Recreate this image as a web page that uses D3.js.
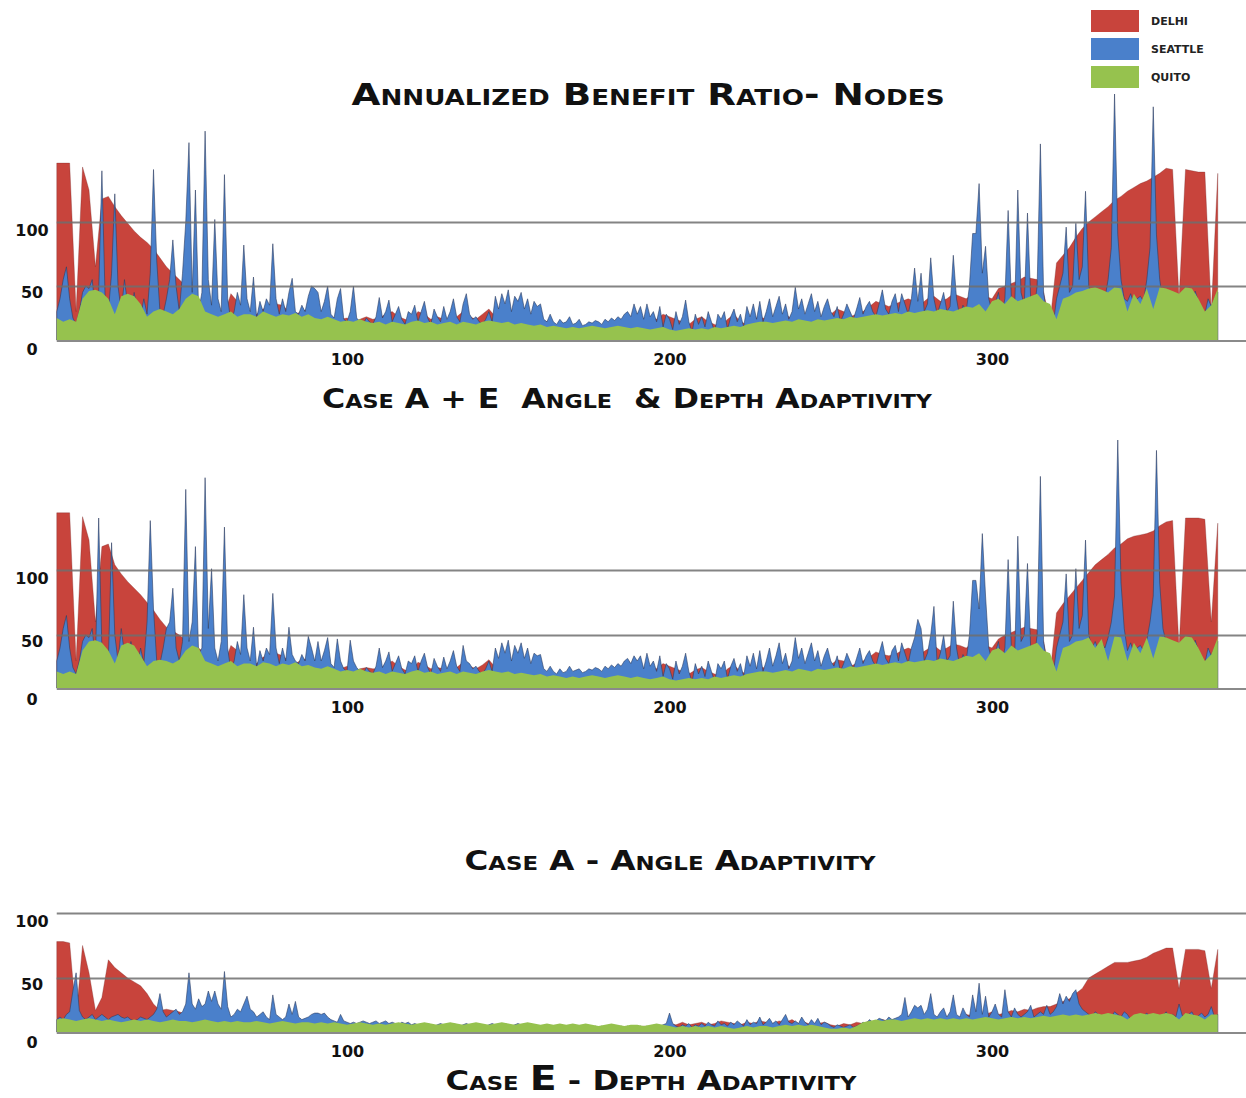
<!DOCTYPE html>
<html>
<head>
<meta charset="utf-8">
<script src="https://cdn.jsdelivr.net/npm/d3@7"></script>
<style>
  html, body { margin: 0; padding: 0; background: #ffffff; }
  svg { display: block; }
  text { font-family: "DejaVu Sans", "Liberation Sans", sans-serif; }
</style>
</head>
<body>
<svg id="chart" width="1246" height="1098"></svg>
<script>
// ---------------- DATA ----------------
const seriesNames = ["Delhi", "Seattle", "Quito"];
const legendLabels = ["DELHI", "SEATTLE", "QUITO"];
const xTicks = [100, 200, 300];
const yTickLabels = [0, 50, 100];
const gridValues = [50, 100];
const titles = [
  "Case A + E  Angle  & Depth Adaptivity",
  "Case A - Angle Adaptivity",
  "Case E - Depth Adaptivity"
];
const mainTitle = "Annualized Benefit Ratio- Nodes";
// x positions: coarse (every 2 nodes) for Delhi & Quito, fine (every node) for Seattle
const xCoarse = d3.range(10, 371, 2);
const xFine = d3.range(10, 371, 1);

// ---- Case A + E ----
const delhiAE = [
146,146,146,30,143,125,65,118,120,112,
105,99,93,88,84,79,72,65,60,55,
50,45,40,36,33,30,28,44,38,30,
30,28,32,34,36,35,30,28,30,32,
30,28,26,25,24,25,22,24,26,24,
25,28,30,26,24,22,30,28,24,26,
24,22,26,30,26,24,28,32,26,22,
20,18,18,20,22,24,22,20,18,16,
15,14,16,18,18,16,15,16,18,20,
22,24,26,24,28,26,24,22,20,24,
26,22,20,18,24,28,22,20,24,26,
24,22,26,28,24,22,26,30,26,24,
28,32,30,26,28,30,34,38,36,34,
36,38,40,38,36,40,42,38,40,44,
42,40,44,46,42,40,48,50,52,54,
57,56,55,45,22,68,74,80,88,95,
100,104,108,112,117,120,124,127,130,132,
135,138,142,141,40,141,140,139,139,30,
138];
const seattleAE = [
30,40,55,65,40,25,20,30,45,50,
48,55,30,45,140,40,30,60,122,50,
30,55,35,28,45,30,26,40,28,60,
141,70,30,28,40,55,86,50,30,60,
100,162,45,125,30,45,171,55,35,102,
40,30,137,40,22,30,45,35,82,40,
30,57,25,38,30,40,35,83,40,28,
40,30,45,56,30,28,35,30,42,50,
48,45,30,38,50,28,25,40,48,24,
22,30,50,25,22,20,25,22,20,26,
41,25,30,39,22,28,34,24,20,30,
28,35,22,30,38,25,20,32,26,22,
34,24,30,40,26,22,36,44,28,24,
26,22,20,24,30,22,42,32,44,36,
47,30,42,38,45,32,40,28,38,34,
36,24,22,28,22,20,24,21,22,26,
20,21,24,19,20,22,21,23,22,20,
24,22,25,23,26,24,28,30,26,36,
28,34,24,36,26,30,22,34,18,28,
24,16,30,20,26,39,22,14,28,20,
26,18,30,22,14,28,24,30,16,26,
32,22,28,18,34,26,36,24,38,22,
30,40,26,34,42,28,36,24,30,49,
32,40,28,36,44,30,38,26,34,40,
30,26,34,22,28,36,30,24,32,41,
28,34,38,30,26,36,47,32,28,38,
44,30,44,36,28,40,64,38,60,30,
36,72,40,28,36,45,30,34,74,40,
26,35,30,50,91,91,130,60,81,40,
30,36,45,28,40,109,40,30,125,45,
35,107,40,30,50,161,45,28,22,20,
40,50,60,96,45,50,99,55,65,124,
50,40,45,38,44,40,55,80,200,90,
55,40,38,44,36,40,42,38,55,80,
190,90,55,38,44,36,40,30,42,36,
45,40,34,46,38,30,28,40,34,40,
45];
const quitoAE = [
25,22,24,22,40,46,47,45,40,28,
42,44,42,36,26,30,32,30,28,32,
40,44,42,30,28,26,28,30,26,28,
28,26,30,28,26,28,27,29,26,28,
25,24,26,24,22,23,22,24,22,21,
22,20,22,21,20,22,23,21,22,20,
21,22,20,22,21,20,22,23,22,21,
22,20,21,20,19,20,18,19,18,17,
18,17,18,19,18,17,18,19,18,17,
18,17,16,17,18,16,15,16,17,16,
17,16,18,17,18,19,18,20,21,22,
22,21,22,23,22,24,23,22,24,23,
24,25,24,26,25,26,27,28,27,28,
29,28,30,29,30,31,30,32,31,30,
32,34,33,36,30,38,40,36,42,38,
40,42,44,38,36,24,40,42,45,46,
48,49,47,45,49,48,30,44,36,48,
32,49,48,46,44,49,48,40,30,35,
48];

// ---- Case A ----
const delhiA = [
144,144,144,30,141,123,60,118,120,104,
97,91,86,81,75,69,62,56,53,50,
46,42,40,36,33,30,28,42,38,30,
30,28,33,34,36,34,30,28,31,32,
30,27,26,25,24,26,22,24,25,24,
24,27,30,26,23,22,29,27,24,25,
24,22,25,29,26,24,27,31,25,22,
20,18,19,20,22,23,21,20,18,16,
15,14,16,17,18,16,15,16,18,20,
22,24,25,24,28,26,24,22,20,23,
25,22,20,18,24,27,22,20,23,26,
24,22,25,28,24,22,26,29,26,24,
27,31,30,26,28,30,33,37,35,34,
35,38,40,38,36,39,42,38,40,43,
42,40,44,46,42,40,47,50,52,54,
56,55,54,45,20,67,74,80,86,92,
98,104,108,112,117,120,124,126,127,128,
130,134,137,138,40,140,140,140,139,60,
136];
const seattleA = [
30,40,55,65,40,25,20,30,45,50,
48,55,30,140,40,35,30,121,50,30,
55,35,28,45,30,26,40,28,60,138,
70,30,28,40,55,60,86,40,30,45,
162,45,60,118,35,40,171,55,101,40,
30,45,133,40,22,30,45,35,81,40,
30,56,25,38,30,40,35,82,40,28,
40,30,56,35,30,28,35,30,49,40,
30,45,30,38,48,28,25,47,30,24,
22,46,30,25,22,20,25,22,20,26,
40,25,30,37,22,28,34,24,20,30,
28,34,22,30,36,25,20,32,26,22,
33,24,30,38,26,22,42,30,28,24,
26,22,20,24,30,22,40,32,44,36,
46,30,42,36,44,32,40,28,36,34,
35,24,22,26,22,20,24,21,22,26,
22,23,24,21,22,24,23,25,24,22,
26,24,27,25,28,26,30,32,28,34,
30,34,24,36,26,30,22,34,18,28,
24,16,30,20,26,36,22,14,28,20,
26,18,30,22,14,28,24,30,16,26,
32,22,28,18,34,26,36,24,38,22,
30,40,26,34,44,28,36,24,30,48,
32,40,28,36,44,30,38,26,34,40,
30,26,34,22,28,36,30,24,32,40,
28,34,38,30,26,36,45,32,28,38,
42,30,44,36,28,40,48,62,55,30,
36,50,72,28,36,50,30,34,76,40,
26,35,30,50,92,92,70,128,80,40,
30,36,45,28,40,108,40,30,126,45,
50,105,40,30,50,172,45,28,18,20,
40,50,60,97,45,50,101,55,65,123,
50,40,45,38,44,40,48,60,80,200,
90,55,38,44,36,40,42,38,46,60,
80,192,90,55,44,36,40,30,42,36,
45,40,34,46,38,30,28,40,34,40,
45];
const quitoA = [
22,20,22,20,38,45,46,44,38,28,
42,44,42,34,26,30,31,30,28,31,
38,42,40,30,28,26,28,30,26,28,
28,26,29,28,26,28,27,29,26,27,
25,24,26,24,22,23,22,24,22,21,
22,20,22,21,20,22,23,21,22,20,
21,22,20,22,21,20,22,23,22,21,
22,20,21,20,19,20,18,19,18,17,
18,17,18,19,18,17,18,19,18,17,
18,17,16,17,18,16,15,16,17,16,
17,16,18,17,18,19,18,20,21,22,
22,21,22,23,22,24,23,22,24,23,
24,25,24,26,25,26,27,28,27,28,
29,28,30,29,30,31,30,32,31,30,
32,34,33,36,30,38,40,36,42,38,
40,42,44,38,36,22,40,42,45,46,
48,40,47,30,49,48,30,44,36,48,
32,49,48,46,44,49,48,40,30,35,
48];

// ---- Case E ----
const delhiE = [
78,78,77,20,75,54,25,35,64,58,
54,50,47,44,38,30,25,26,25,24,
22,20,18,17,16,16,15,15,16,15,
14,15,14,14,13,14,13,14,13,13,
12,12,13,12,12,11,12,12,11,12,
11,12,11,12,12,11,12,11,12,12,
12,11,12,12,11,12,12,11,12,11,
11,12,11,12,11,11,12,11,12,11,
11,12,11,12,11,12,11,12,11,12,
12,13,12,14,13,15,14,16,14,15,
16,14,15,17,16,15,14,16,15,17,
16,15,17,16,18,15,16,14,15,16,
14,13,15,14,16,15,17,16,18,17,
18,17,19,18,20,19,18,20,19,21,
20,22,21,20,22,24,22,23,25,24,
26,25,27,28,28,30,32,34,38,42,
50,53,56,59,62,62,62,63,64,66,
69,71,73,73,42,72,72,72,71,42,
72];
const seattleE = [
18,20,18,22,24,40,54,25,20,18,
20,22,18,20,22,20,18,20,21,22,
20,19,20,18,17,18,20,19,18,20,
22,26,38,24,20,22,24,26,22,24,
30,54,30,26,34,28,30,40,32,40,
30,26,55,28,20,22,26,24,30,36,
26,24,20,22,24,20,18,37,22,20,
18,20,30,22,32,20,18,19,20,22,
23,23,22,23,20,18,17,16,22,17,
16,15,16,15,16,17,16,15,16,17,
15,16,17,15,16,15,14,16,15,16,
14,15,14,13,14,15,14,13,14,15,
14,13,14,15,14,13,14,15,14,13,
14,13,14,13,14,15,14,13,14,15,
14,13,14,15,14,13,14,13,14,13,
12,13,14,13,12,13,12,13,12,13,
12,13,12,13,12,13,12,13,12,13,
12,13,12,13,12,13,12,13,12,13,
12,13,12,13,12,13,12,13,14,15,
23,15,13,12,14,13,15,12,14,13,
15,13,16,14,13,17,14,15,13,16,
14,17,15,13,18,14,16,15,20,14,
16,19,15,17,14,18,22,16,15,17,
15,20,16,14,18,15,19,14,16,15,
13,12,14,13,12,13,14,12,13,14,
16,15,18,16,17,19,18,17,20,18,
19,20,22,35,20,24,29,27,29,22,
26,38,22,20,24,27,20,24,37,22,
20,27,22,20,37,24,46,22,36,20,
24,30,22,20,41,24,20,27,22,20,
22,24,29,20,22,24,22,29,22,24,
28,38,30,36,32,38,41,30,26,24,
22,20,24,22,20,18,22,20,24,22,
20,24,22,18,20,22,19,21,23,20,
22,20,18,21,24,19,22,20,30,21,
20,22,24,19,21,23,20,22,28,20,
22];
const quitoE = [
18,19,18,17,18,19,18,17,18,17,
16,17,18,17,18,17,16,17,18,17,
17,16,17,18,17,16,17,16,17,16,
16,17,16,15,16,17,16,15,16,16,
15,16,15,16,15,14,15,16,15,14,
15,14,15,16,15,14,15,16,15,14,
15,16,15,14,15,16,15,14,15,16,
15,14,15,16,15,14,15,14,15,14,
15,14,15,14,13,14,15,14,13,14,
14,13,14,15,14,13,12,13,12,13,
12,13,12,13,12,11,12,13,12,13,
13,12,13,14,13,14,13,14,13,12,
11,11,12,11,13,16,17,18,17,18,
18,17,18,19,18,19,18,19,18,19,
18,19,18,19,20,19,18,19,20,19,
20,19,20,21,20,21,22,21,22,21,
22,23,22,23,22,21,18,22,23,22,
23,22,23,22,18,23,22,21,18,22,
22];

// ---------------- LAYOUT ----------------
const W = 1246, H = 1098;
const colors = { Delhi: "#c8443c", Seattle: "#4a80cb", Quito: "#96c24e" };
const strokes = { Delhi: "rgba(120,40,40,0.55)", Seattle: "rgba(45,60,95,0.65)", Quito: "none" };

const panels = [
  { zeroY: 350, unit: 1.28, bottom: 340, values: [delhiAE, seattleAE, quitoAE] },
  { zeroY: 700, unit: 1.30, bottom: 688, values: [delhiA, seattleA, quitoA] },
  { zeroY: 1043, unit: 1.30, bottom: 1032, values: [delhiE, seattleE, quitoE] }
];
const xsFor = [xCoarse, xFine, xCoarse];

const svg = d3.select("#chart");
svg.append("rect").attr("width", W).attr("height", H).attr("fill", "#fff");

const x = d3.scaleLinear().domain([100, 300]).range([347, 992]);
const plotLeft = x(10);

panels.forEach((p, pi) => {
  const y = d3.scaleLinear().domain([0, 100]).range([p.zeroY, p.zeroY - 100 * p.unit]);
  const yLab = d3.scaleLinear().domain([0, 50, 100])
    .range([p.zeroY - 1, y(50) + 6, y(100) + 8]);
  const g = svg.append("g").attr("class", "panel panel-" + pi);

  const area = d3.area()
    .x(d => x(d[0]))
    .y0(p.bottom)
    .y1(d => y(d[1]))
    .curve(d3.curveLinear);

  seriesNames.forEach((name, si) => {
    const xs = xsFor[si];
    const vals = p.values[si];
    const data = vals.slice(0, xs.length).map((v, i) => [xs[i], v]);
    g.append("path")
      .datum(data)
      .attr("class", "area " + name)
      .attr("fill", colors[name])
      .attr("stroke", strokes[name])
      .attr("stroke-width", name === "Seattle" ? 0.9 : 0.6)
      .attr("stroke-linejoin", "round")
      .attr("d", area);
  });

  // gridlines (drawn over the areas like the original)
  const grid = g.append("g")
    .attr("transform", `translate(${plotLeft},0)`)
    .call(d3.axisLeft(y).tickValues(gridValues).tickSize(-(W - plotLeft)).tickFormat(""));
  grid.select(".domain").remove();
  grid.selectAll("line").attr("stroke", "#6f6f6f").attr("stroke-width", 1.8).attr("stroke-opacity", 0.85);

  // baseline
  g.append("line")
    .attr("x1", plotLeft).attr("x2", W)
    .attr("y1", p.bottom + 1).attr("y2", p.bottom + 1)
    .attr("stroke", "#8a8a8a").attr("stroke-width", 2);

  // y tick labels
  const yAx = g.append("g")
    .attr("transform", "translate(32,0)")
    .call(d3.axisLeft(yLab).tickValues(yTickLabels).tickSize(0).tickPadding(0));
  yAx.select(".domain").remove();
  yAx.selectAll("text")
    .attr("x", 0).attr("dy", "0.35em")
    .attr("text-anchor", "middle")
    .attr("font-family", "DejaVu Sans")
    .attr("font-weight", "bold")
    .attr("font-size", 16)
    .attr("fill", "#111");

  // x tick labels
  const xAx = g.append("g")
    .attr("transform", `translate(0,${p.bottom})`)
    .call(d3.axisBottom(x).tickValues(xTicks).tickSize(0).tickPadding(14));
  xAx.select(".domain").remove();
  xAx.selectAll("text")
    .attr("font-family", "DejaVu Sans")
    .attr("font-weight", "bold")
    .attr("font-size", 16)
    .attr("fill", "#111");
});

// ---------------- TITLES ----------------
function smallCapsTitle(str, cx, baseY, size, width) {
  return svg.append("text")
    .attr("x", cx).attr("y", baseY)
    .attr("text-anchor", "middle")
    .attr("font-family", "DejaVu Sans")
    .attr("font-weight", "bold")
    .attr("font-size", size)
    .style("font-variant", "small-caps")
    .style("white-space", "pre")
    .attr("fill", "#111")
    .attr("textLength", width)
    .attr("lengthAdjust", "spacingAndGlyphs")
    .text(str);
}
smallCapsTitle(mainTitle, 648, 105, 30, 593);
smallCapsTitle(titles[0], 627, 408, 27, 610);
smallCapsTitle(titles[1], 670, 870, 27, 411);

// Case E title with enlarged "E"
const tE = svg.append("text")
  .attr("x", 651).attr("y", 1090)
  .attr("text-anchor", "middle")
  .attr("font-family", "DejaVu Sans")
  .attr("font-weight", "bold")
  .attr("font-size", 27)
  .style("font-variant", "small-caps")
  .style("white-space", "pre")
  .attr("fill", "#111")
  .attr("textLength", 411)
  .attr("lengthAdjust", "spacingAndGlyphs");
const partsE = titles[2].split("E");
tE.append("tspan").text(partsE[0]);
tE.append("tspan").attr("font-size", 33).text("E");
tE.append("tspan").text(partsE.slice(1).join("E"));

// ---------------- LEGEND ----------------
const legend = svg.append("g").attr("class", "legend");
seriesNames.forEach((name, i) => {
  const top = [10, 38, 66][i];
  legend.append("rect")
    .attr("x", 1091).attr("y", top)
    .attr("width", 48).attr("height", 22)
    .attr("fill", colors[name]);
  legend.append("text")
    .attr("x", 1151).attr("y", top + 11)
    .attr("dy", "0.35em")
    .attr("font-family", "DejaVu Sans")
    .attr("font-weight", "bold")
    .attr("font-size", 11)
    .attr("fill", "#222")
    .text(legendLabels[i]);
});
</script>
</body>
</html>
